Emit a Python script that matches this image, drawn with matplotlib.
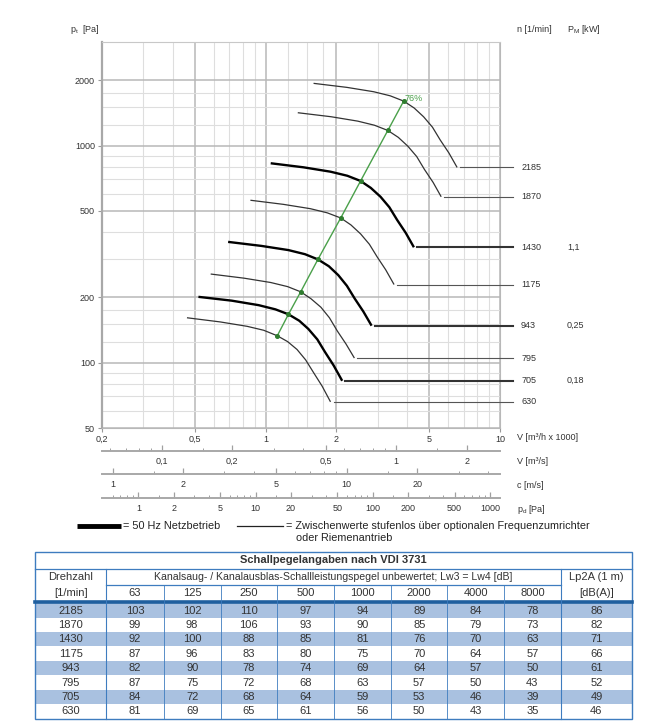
import matplotlib
matplotlib.use('Agg')
import matplotlib.pyplot as plt
from matplotlib.ticker import FixedLocator, NullFormatter
from matplotlib.lines import Line2D
from matplotlib.patches import Rectangle
import matplotlib.transforms as mtransforms

plt.rcParams['font.family'] = ['Liberation Sans', 'DejaVu Sans']

W, H = 646, 726

# Kennlinien: V [m³/h x 1000] und pt [Pa]
drehzahl = [2185, 1870, 1430, 1175, 943, 795, 705, 630]
netzbetrieb = [1430, 943, 705]
motorleistung = {1430: '1,1', 943: '0,25', 705: '0,18'}

v_2185 = [1.60, 2.22, 2.89, 3.40, 3.88, 4.30, 4.72, 5.15, 5.56, 6.05, 6.56]
p_2185 = [1935, 1854, 1770, 1695, 1603, 1490, 1357, 1215, 1060, 925, 793]
v_1870 = [1.37, 1.90, 2.47, 2.91, 3.32, 3.68, 4.04, 4.41, 4.76, 5.18, 5.61]
p_1870 = [1417, 1358, 1296, 1241, 1174, 1091, 994, 890, 776, 677, 581]
v_1430 = [1.05, 1.45, 1.89, 2.23, 2.54, 2.81, 3.09, 3.37, 3.64, 3.96, 4.29]
p_1430 = [829, 794, 758, 726, 687, 638, 581, 520, 454, 396, 340]
v_1175 = [0.860, 1.19, 1.55, 1.83, 2.09, 2.31, 2.54, 2.77, 2.99, 3.25, 3.53]
p_1175 = [560, 536, 512, 490, 464, 431, 392, 351, 307, 268, 229]
v_943 = [0.691, 0.958, 1.25, 1.47, 1.67, 1.86, 2.04, 2.22, 2.40, 2.61, 2.83]
p_943 = [360, 345, 330, 316, 299, 278, 253, 226, 197, 172, 148]
v_795 = [0.582, 0.808, 1.05, 1.24, 1.41, 1.56, 1.72, 1.87, 2.02, 2.20, 2.39]
p_795 = [256, 245, 234, 224, 212, 197, 180, 161, 140, 122, 105]
v_705 = [0.516, 0.716, 0.933, 1.10, 1.25, 1.39, 1.52, 1.66, 1.79, 1.95, 2.12]
p_705 = [201, 193, 184, 176, 167, 156, 143, 128, 112, 97, 82.5]
v_630 = [0.461, 0.640, 0.833, 0.980, 1.12, 1.24, 1.36, 1.48, 1.60, 1.74, 1.89]
p_630 = [161, 154, 147, 141, 133, 125, 115, 103, 90, 78, 66]

kennlinien = {
    2185: (v_2185, p_2185), 1870: (v_1870, p_1870), 1430: (v_1430, p_1430),
    1175: (v_1175, p_1175), 943: (v_943, p_943), 795: (v_795, p_795),
    705: (v_705, p_705), 630: (v_630, p_630),
}

# Wirkungsgradlinie 76 %
eta_v = [3.88, 3.32, 2.54, 2.09, 1.67, 1.41, 1.25, 1.12]
eta_p = [1603, 1174, 687, 464, 299, 212, 167, 133]

# Achsen
x_major = [0.2, 0.5, 1, 2, 5, 10]
x_major_lab = ['0,2', '0,5', '1', '2', '5', '10']
x_minor = [0.3, 0.4, 0.6, 0.7, 0.8, 0.9, 1.25, 1.5, 1.75, 3, 4, 6, 7, 8, 9]
y_major = [50, 100, 200, 500, 1000, 2000]
y_minor = [60, 70, 80, 90, 125, 150, 175, 300, 400, 600, 700, 800, 900, 1250, 1500, 1750]

# Nebenskalen
vs_major = [0.1, 0.2, 0.5, 1, 2]
vs_lab = ['0,1', '0,2', '0,5', '1', '2']
vs_minor = [0.06, 0.07, 0.08, 0.09, 0.15, 0.3, 0.4, 0.6, 0.7, 0.8, 0.9, 1.5]
c_major = [1, 2, 5, 10, 20]
c_minor = [1.5, 3, 4, 6, 7, 8, 9, 15, 30, 40]
pd_major = [1, 2, 5, 10, 20, 50, 100, 200, 500, 1000]
pd_minor = [0.6, 0.7, 0.8, 0.9, 1.5, 3, 4, 6, 7, 8, 9, 15, 30, 40, 60, 70, 80, 90,
            150, 300, 400, 600, 700, 800, 900]
querschnitt = 0.0616  # m²

# Schalltabelle
frequenzen = ['63', '125', '250', '500', '1000', '2000', '4000', '8000']
lw_2185 = [103, 102, 110, 97, 94, 89, 84, 78]
lw_1870 = [99, 98, 106, 93, 90, 85, 79, 73]
lw_1430 = [92, 100, 88, 85, 81, 76, 70, 63]
lw_1175 = [87, 96, 83, 80, 75, 70, 64, 57]
lw_943 = [82, 90, 78, 74, 69, 64, 57, 50]
lw_795 = [87, 75, 72, 68, 63, 57, 50, 43]
lw_705 = [84, 72, 68, 64, 59, 53, 46, 39]
lw_630 = [81, 69, 65, 61, 56, 50, 43, 35]
schall = [lw_2185, lw_1870, lw_1430, lw_1175, lw_943, lw_795, lw_705, lw_630]
lp2a = [86, 82, 71, 66, 61, 52, 49, 46]


def px(x, y):
    return x / W, 1 - y / H


fig = plt.figure(figsize=(W / 100, H / 100), dpi=100)

ax_l, ax_w = 102 / W, 398 / W
ax = fig.add_axes([ax_l, 1 - 428 / H, ax_w, 386 / H])
ax.set_xscale('log')
ax.set_yscale('log')
ax.set_xlim(0.2, 10)
ax.set_ylim(50, 3000)

ax.xaxis.set_major_locator(FixedLocator(x_major))
ax.set_xticklabels(x_major_lab)
ax.xaxis.set_minor_locator(FixedLocator(x_minor))
ax.xaxis.set_minor_formatter(NullFormatter())
ax.yaxis.set_major_locator(FixedLocator(y_major))
ax.set_yticklabels([str(v) for v in y_major])
ax.yaxis.set_minor_locator(FixedLocator(y_minor))
ax.yaxis.set_minor_formatter(NullFormatter())
ax.tick_params(which='major', length=3, color='#999999', labelsize=6.5, labelcolor='#333333', pad=2)
ax.tick_params(which='minor', length=0)
ax.grid(which='major', color='#b8b8b8', linewidth=1.1)
ax.grid(which='minor', color='#dedede', linewidth=0.8)
ax.set_axisbelow(True)
for s in ax.spines.values():
    s.set_color('#c8c8c8')
    s.set_linewidth(0.8)
ax.spines['left'].set_color('#a8a8a8')
ax.spines['left'].set_linewidth(1.6)
ax.spines['right'].set_color('#b8b8b8')
ax.spines['bottom'].set_color('#b8b8b8')

trans = mtransforms.blended_transform_factory(ax.transAxes, ax.transData)
for n in drehzahl:
    v, p = kennlinien[n]
    dick = n in netzbetrieb
    ax.plot(v, p, color='black' if dick else '#333333', lw=1.7 if dick else 0.9,
            solid_capstyle='butt', solid_joinstyle='round', zorder=3)
    # Bezugslinie zur Drehzahlangabe
    x0 = (ax.transAxes.inverted().transform(ax.transData.transform((v[-1] * 1.03, p[-1])))[0])
    ax.plot([x0, 1.0327], [p[-1], p[-1]], transform=trans, clip_on=False,
            color='#333333' if dick else '#555555', lw=1.5 if dick else 0.8, zorder=3)
    ax.text(1.053, p[-1], str(n), transform=trans, fontsize=6.5, color='#333333',
            va='center', ha='left')
    if n in motorleistung:
        ax.text(1.168, p[-1], motorleistung[n], transform=trans, fontsize=6.5,
                color='#333333', va='center', ha='left')

ax.plot(eta_v, eta_p, color='#4aa04a', lw=1.0, zorder=4)
ax.plot(eta_v, eta_p, ls='none', marker='o', ms=2.6, color='#2f7d2f', zorder=5)
ax.text(eta_v[0] * 1.01, eta_p[0] * 1.03, '76%', color='#4aa04a', fontsize=6.5,
        ha='left', va='center', zorder=5)

fig.text(*px(70, 29), 'p$_\\mathregular{t}$  [Pa]', fontsize=6.5, color='#333333', va='center')
fig.text(*px(517, 29), 'n [1/min]', fontsize=6.5, color='#333333', va='center')
fig.text(*px(567, 29), 'P$_\\mathregular{M}$ [kW]', fontsize=6.5, color='#333333', va='center')
fig.text(*px(517, 437), 'V [m³/h x 1000]', fontsize=6.5, color='#333333', va='center')


def nebenskala(y_line, y_lab, werte, labels, minor, faktor, name):
    sx = fig.add_axes([ax_l, 1 - y_line / H, ax_w, 0.0001])
    sx.set_xscale('log')
    sx.set_xlim(0.2, 10)
    sx.set_yticks([])
    sx.patch.set_visible(False)
    for s in ['top', 'left', 'right']:
        sx.spines[s].set_visible(False)
    sx.spines['bottom'].set_color('#a8a8a8')
    sx.spines['bottom'].set_linewidth(1.4)
    sx.xaxis.set_major_locator(FixedLocator([faktor(w) for w in werte]))
    sx.set_xticklabels(labels)
    sx.xaxis.set_minor_locator(FixedLocator([faktor(w) for w in minor]))
    sx.xaxis.set_minor_formatter(NullFormatter())
    sx.tick_params(axis='x', which='both', direction='in', color='#a0a0a0',
                   labelcolor='#333333', labelsize=6.5, pad=4.5)
    sx.tick_params(which='major', length=4, width=0.9)
    sx.tick_params(which='minor', length=2.5, width=0.7)
    fig.text(*px(517, y_lab), name, fontsize=6.5, color='#333333', va='center')


nebenskala(451, 462, vs_major, vs_lab, vs_minor, lambda v: v * 3.6, 'V [m³/s]')
nebenskala(474, 485, c_major, [str(c) for c in c_major], c_minor,
           lambda c: c * querschnitt * 3.6, 'c [m/s]')
nebenskala(498, 509, pd_major, [str(p) for p in pd_major], pd_minor,
           lambda p: (p / 0.6) ** 0.5 * querschnitt * 3.6, 'p$_\\mathregular{d}$ [Pa]')

# Legende und Tabelle in Pixelkoordinaten
ov = fig.add_axes([0, 0, 1, 1])
ov.set_xlim(0, W)
ov.set_ylim(H, 0)
ov.axis('off')
ov.patch.set_visible(False)

ov.add_line(Line2D([77, 121], [526, 526], color='black', lw=3.5, solid_capstyle='butt'))
ov.text(123, 526, '= 50 Hz Netzbetrieb', fontsize=7.8, color='#222222', va='center')
ov.add_line(Line2D([237, 283], [526, 526], color='#222222', lw=0.9))
ov.text(286, 526, '= Zwischenwerte stufenlos über optionalen Frequenzumrichter',
        fontsize=7.8, color='#222222', va='center')
ov.text(296, 538, 'oder Riemenantrieb', fontsize=7.8, color='#222222', va='center')

blau = '#3e7cbf'
kanten = [35, 106.4, 163.7, 220.6, 277.1, 334, 391, 447.4, 503.9, 560.8, 632]
t_top, t_r1, t_r2, t_r3 = 552, 568.5, 585, 601.5
zeile_h = 14.4
z0 = 603.3
t_bot = z0 + 8 * zeile_h

for i in range(8):
    if i % 2 == 0:
        ov.add_patch(Rectangle((kanten[0], z0 + i * zeile_h), kanten[-1] - kanten[0], zeile_h,
                               facecolor='#a9c1e0', edgecolor='none'))
ov.add_patch(Rectangle((kanten[0], t_top), kanten[-1] - kanten[0], t_bot - t_top,
                       facecolor='none', edgecolor=blau, lw=1.0))
ov.add_line(Line2D([kanten[0], kanten[-1]], [t_r1, t_r1], color=blau, lw=0.9))
ov.add_line(Line2D([kanten[1], kanten[-2]], [t_r2, t_r2], color=blau, lw=0.9))
ov.add_line(Line2D([kanten[0], kanten[-1]], [602.3, 602.3], color='#1f5f9f', lw=2.6))
for k in [kanten[1], kanten[-2]]:
    ov.add_line(Line2D([k, k], [t_r1, t_bot], color=blau, lw=0.8))
for k in kanten[2:-2]:
    ov.add_line(Line2D([k, k], [t_r2, t_bot], color=blau, lw=0.6))

tf = dict(fontsize=8, color='#333333', ha='center', va='center')
ov.text((kanten[0] + kanten[-1]) / 2, (t_top + t_r1) / 2, 'Schallpegelangaben nach VDI 3731',
        fontweight='bold', **tf)
ov.text((kanten[0] + kanten[1]) / 2, (t_r1 + t_r2) / 2, 'Drehzahl', **tf)
ov.text((kanten[0] + kanten[1]) / 2, (t_r2 + t_r3) / 2, '[1/min]', **tf)
ov.text((kanten[1] + kanten[-2]) / 2, (t_r1 + t_r2) / 2,
        'Kanalsaug- / Kanalausblas-Schallleistungspegel unbewertet; Lw3 = Lw4 [dB]',
        fontsize=7.6, color='#333333', ha='center', va='center')
ov.text((kanten[-2] + kanten[-1]) / 2, (t_r1 + t_r2) / 2, 'Lp2A (1 m)', **tf)
ov.text((kanten[-2] + kanten[-1]) / 2, (t_r2 + t_r3) / 2, '[dB(A)]', **tf)
for j, f in enumerate(frequenzen):
    ov.text((kanten[j + 1] + kanten[j + 2]) / 2, (t_r2 + t_r3) / 2, f, **tf)

for i, n in enumerate(drehzahl):
    yc = z0 + (i + 0.5) * zeile_h
    ov.text((kanten[0] + kanten[1]) / 2, yc, str(n), **tf)
    for j, w in enumerate(schall[i]):
        ov.text((kanten[j + 1] + kanten[j + 2]) / 2, yc, str(w), **tf)
    ov.text((kanten[-2] + kanten[-1]) / 2, yc, str(lp2a[i]), **tf)

fig.savefig('out.png', dpi=100)
